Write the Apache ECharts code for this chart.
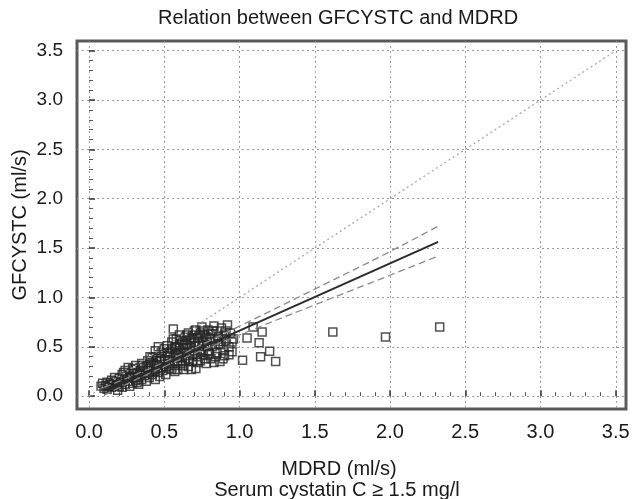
<!DOCTYPE html>
<html><head><meta charset="utf-8">
<script src="https://cdn.jsdelivr.net/npm/echarts@6/dist/echarts.min.js"></script>
<style>html,body{margin:0;padding:0;background:#fff}#c{width:632px;height:499px}</style>
</head><body><div id="c"></div>
<script>
// MDRD (x) and GFCYSTC (y), ml/s
const mdrd = [
0.08,0.09,0.10,0.11,0.12,0.12,0.13,0.14,0.15,0.15,0.16,0.17,0.17,0.18,0.19,0.19,0.20,0.20,
0.21,0.22,0.22,0.23,0.24,0.24,0.25,0.26,0.26,0.27,0.28,0.28,0.29,0.30,0.30,0.31,0.31,0.32,0.33,0.33,0.34,0.34,0.35,0.35,0.36,
0.37,0.38,0.38,0.39,0.40,0.40,0.41,0.42,0.42,0.43,0.44,0.44,0.45,0.45,0.46,0.47,0.47,0.48,0.48,0.49,0.50,0.50,0.50,0.51,0.52,0.46,0.44,0.405,
0.52,0.53,0.53,0.54,0.55,0.55,0.56,0.56,0.57,0.57,0.58,0.58,0.59,0.59,0.60,0.60,0.61,0.61,0.62,0.62,0.63,0.63,0.64,0.64,0.65,0.65,0.66,0.66,
0.67,0.67,0.68,0.68,0.69,0.69,0.70,0.70,0.71,0.71,0.72,0.72,0.73,0.74,0.74,0.75,0.75,0.76,0.76,0.77,0.78,0.78,0.79,0.79,0.80,
0.81,0.81,0.82,0.83,0.83,0.84,0.85,0.85,0.86,0.87,0.87,0.88,0.89,0.90,0.90,0.91,0.92,0.93,0.94,0.95,0.96,
0.48,0.51,0.52,0.54,0.55,0.56,0.57,0.58,0.59,0.60,0.61,0.62,0.63,0.64,0.65,0.66,0.67,0.68,0.69,0.70,0.71,0.72,0.73,0.74,0.75,0.76,0.77,0.78,0.79,0.80,0.82,0.84,0.86,0.88,0.89,0.91,0.93,0.95,
0.23,0.27,0.29,0.32,0.36,0.39,0.41,0.43,0.45,
1.02,1.05,1.09,1.13,1.14,1.15,1.20,1.24,1.62,1.97,2.33
];
const gfcystc = [
0.10,0.13,0.08,0.11,0.14,0.07,0.10,0.12,0.09,0.16,0.13,0.10,0.19,0.15,0.12,0.06,0.18,0.10,
0.14,0.22,0.09,0.17,0.12,0.26,0.20,0.15,0.29,0.10,0.23,0.18,0.13,0.27,0.20,0.31,0.16,0.24,0.19,0.12,0.29,0.22,0.33,0.17,0.26,
0.21,0.30,0.15,0.36,0.24,0.19,0.29,0.39,0.22,0.33,0.27,0.17,0.40,0.31,0.24,0.35,0.20,0.29,0.44,0.26,0.37,0.32,0.48,0.22,0.41,0.50,0.46,0.40,
0.51,0.28,0.35,0.45,0.55,0.27,0.68,0.39,0.31,0.49,0.58,0.43,0.27,0.36,0.52,0.62,0.46,0.33,0.40,0.56,0.27,0.49,0.60,0.36,0.44,0.53,0.30,0.64,
0.41,0.57,0.27,0.50,0.62,0.35,0.46,0.55,0.67,0.28,0.40,0.59,0.51,0.64,0.36,0.70,0.47,0.56,0.42,0.62,0.52,0.33,0.67,0.45,0.58,
0.38,0.63,0.50,0.71,0.34,0.56,0.44,0.66,0.60,0.35,0.52,0.69,0.47,0.62,0.41,0.56,0.72,0.50,0.64,0.45,0.58,
0.38,0.30,0.44,0.33,0.48,0.58,0.25,0.50,0.44,0.39,0.57,0.31,0.43,0.52,0.62,0.37,0.49,0.59,0.42,0.66,0.51,0.34,0.61,0.45,0.55,0.66,0.38,0.60,0.51,0.43,0.66,0.40,0.53,0.58,0.38,0.66,0.42,0.55,
0.24,0.19,0.28,0.14,0.31,0.26,0.34,0.25,0.36,
0.365,0.59,0.70,0.54,0.40,0.65,0.455,0.35,0.65,0.60,0.70
];
// regression line and its confidence band
const regX = [0.10, 2.32];
const regY = [0.051, 1.563];
const bandX = [0.10, 0.50, 1.00, 1.50, 2.00, 2.32];
const upperY = [0.09, 0.345, 0.71, 1.085, 1.465, 1.723];
const lowerY = [0.01, 0.300, 0.62, 0.925, 1.225, 1.420];
// line of identity
const identX = [0, 3.5];
const identY = [0, 3.5];
// ticks
const majorTicks = [0,0.5,1.0,1.5,2.0,2.5,3.0,3.5];
const minorTicks = [0,0.1,0.2,0.3,0.4,0.5,0.6,0.7,0.8,0.9,1.0,1.1,1.2,1.3,1.4,1.5,1.6,1.7,1.8,1.9,2.0,2.1,2.2,2.3,2.4,2.5,2.6,2.7,2.8,2.9,3.0,3.1,3.2,3.3,3.4,3.5];

const FONT = '"Liberation Sans", Arial, sans-serif';
const TXT = '#1a1a1a';
const zip = (a, b) => a.map((v, i) => [v, b[i]]);

const xRange = {min: -0.08, max: 3.568};
const yRange = {min: -0.13, max: 3.598};

function majorAxis(isX) {
  return Object.assign({
    type: 'value',
    position: isX ? 'bottom' : 'left',
    axisLine: {show: false},
    axisTick: {show: true, inside: true, length: 6, customValues: majorTicks, lineStyle: {color: '#333', width: 1.5}},
    axisLabel: {customValues: majorTicks, formatter: v => v.toFixed(1), fontFamily: FONT, fontSize: isX ? 20 : 19, color: TXT, margin: isX ? 13 : 14},
    splitLine: {show: true, lineStyle: {color: '#9a9a9a', type: [2, 3], width: 1}},
    minorTick: {show: false}
  }, isX ? xRange : yRange);
}
function minorAxis(isX) {
  return Object.assign({
    type: 'value',
    position: isX ? 'bottom' : 'left',
    offset: 0,
    axisLine: {show: false},
    axisTick: {show: true, inside: true, length: 4, customValues: minorTicks, lineStyle: {color: '#555', width: 1}},
    axisLabel: {show: false},
    splitLine: {show: false}
  }, isX ? xRange : yRange);
}

const xA = majorAxis(true);
const yA = majorAxis(false);
yA.name = 'GFCYSTC (ml/s)';
yA.nameLocation = 'middle';
yA.nameGap = 47;
yA.nameMoveOverlap = false;
yA.nameTextStyle = {fontFamily: FONT, fontSize: 20, color: TXT};

const chart = echarts.init(document.getElementById('c'), null, {renderer: 'canvas'});
chart.setOption({
  animation: false,
  backgroundColor: '#fff',
  title: {
    text: 'Relation between GFCYSTC and MDRD',
    left: 333, top: 3, textAlign: 'center',
    textStyle: {fontFamily: FONT, fontSize: 20, fontWeight: 'normal', color: TXT}
  },
  grid: {left: 77, right: 6, top: 41, bottom: 90, outerBoundsMode: 'none', show: true, borderColor: '#5a5a5a', borderWidth: 3, backgroundColor: 'transparent'},
  xAxis: [xA, minorAxis(true)],
  yAxis: [yA, minorAxis(false)],
  graphic: [
    {type: 'text', x: 339, y: 469, style: {text: 'MDRD (ml/s)', align: 'center', verticalAlign: 'middle', fontFamily: FONT, fontSize: 20, fill: TXT}},
    {type: 'text', x: 337, y: 490, style: {text: 'Serum cystatin C \u2265 1.5 mg/l', align: 'center', verticalAlign: 'middle', fontFamily: FONT, fontSize: 20, fill: TXT}}
  ],
  series: [
    {type: 'line', data: zip(identX, identY), symbol: 'none', silent: true,
     lineStyle: {color: '#a8a8a8', width: 1.3, type: [2, 3]}},
    {type: 'line', data: zip(bandX, upperY), symbol: 'none', smooth: true, silent: true,
     lineStyle: {color: '#8a8a8a', width: 1.3, type: [7, 4]}},
    {type: 'line', data: zip(bandX, lowerY), symbol: 'none', smooth: true, silent: true,
     lineStyle: {color: '#8a8a8a', width: 1.3, type: [7, 4]}},
    {type: 'scatter', data: zip(mdrd, gfcystc), symbol: 'rect', symbolSize: 8,
     itemStyle: {color: 'rgba(255,255,255,0)', borderColor: '#262626', borderWidth: 1.5}},
    {type: 'line', data: zip(regX, regY), symbol: 'none', silent: true,
     lineStyle: {color: '#2a2a2a', width: 2}}
  ]
});
</script></body></html>
